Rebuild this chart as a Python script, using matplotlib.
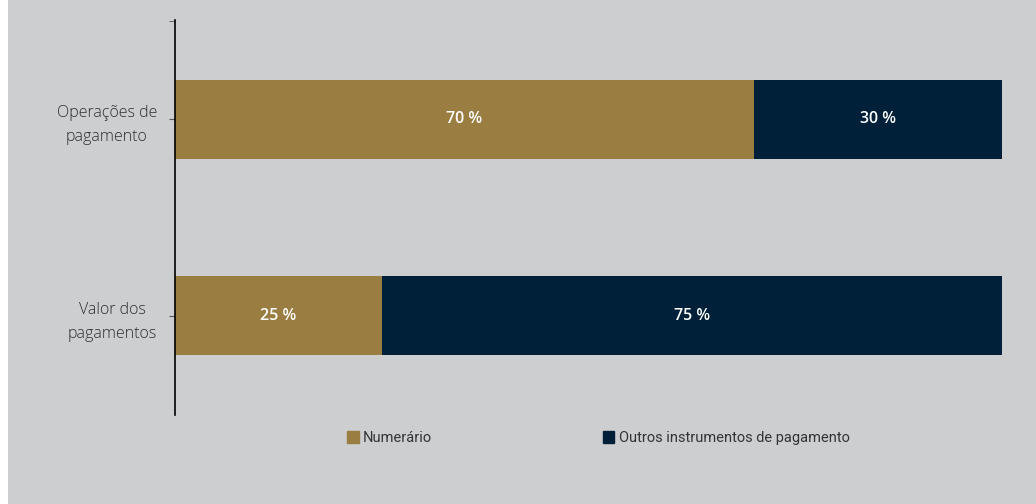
import matplotlib.pyplot as plt
from matplotlib.patches import Rectangle, Patch

plt.rcParams['font.family'] = ['Open Sans', 'DejaVu Sans']

categories = ['Operações de\npagamento', 'Valor dos\npagamentos']
numerario = [70, 25]
outros = [30, 75]
series_names = ['Numerário', 'Outros instrumentos de pagamento']

gold = '#9A7D41'
navy = '#002039'
bg = '#CDCED0'

fig = plt.figure(figsize=(10.36, 5.04), dpi=100, facecolor=bg)
# thin white strip on the left edge
fig.patches.append(Rectangle((0, 0), 8 / 1036, 1, transform=fig.transFigure,
                             facecolor='white', edgecolor='none', zorder=-1))

ax = fig.add_axes([175 / 1036, 1 - 415 / 504, 827 / 1036, 395 / 504])
ax.set_facecolor(bg)

y = list(range(len(categories)))
b1 = ax.barh(y, numerario, height=0.4, color=gold, label=series_names[0])
b2 = ax.barh(y, outros, left=numerario, height=0.4, color=navy, label=series_names[1])

for bars, vals in [(b1, numerario), (b2, outros)]:
    ax.bar_label(bars, labels=[f'{v} %' for v in vals], label_type='center',
                 color='white', fontsize=11.5, fontweight='semibold')

ax.set_xlim(0, 100)
ax.set_ylim(1.505, -0.505)
ax.set_yticks(y)
ax.set_yticklabels(categories, fontsize=11.5, color='#2e2e2e', fontweight='light',
                   multialignment='center', linespacing=1.65)
ax.set_yticks([-0.5], minor=True)
ax.tick_params(axis='y', which='both', length=4, color='#555555', pad=9)
ax.set_xticks([])
for s in ['top', 'right', 'bottom']:
    ax.spines[s].set_visible(False)
ax.spines['left'].set_color('black')
ax.spines['left'].set_linewidth(1.2)

handles = [Patch(color=gold), Patch(color=navy)]
leg = fig.legend(handles, series_names, loc='center left',
                 bbox_to_anchor=(347 / 1036, 1 - 438 / 504),
                 ncol=2, frameon=False, handlelength=0.8, handleheight=0.8,
                 handletextpad=0.3, columnspacing=11.7, borderpad=0, borderaxespad=0,
                 prop={'family': ['Roboto', 'DejaVu Sans'], 'size': 10.5})
for t in leg.get_texts():
    t.set_color('#333333')

fig.savefig('out.png', dpi=100, facecolor=bg)
